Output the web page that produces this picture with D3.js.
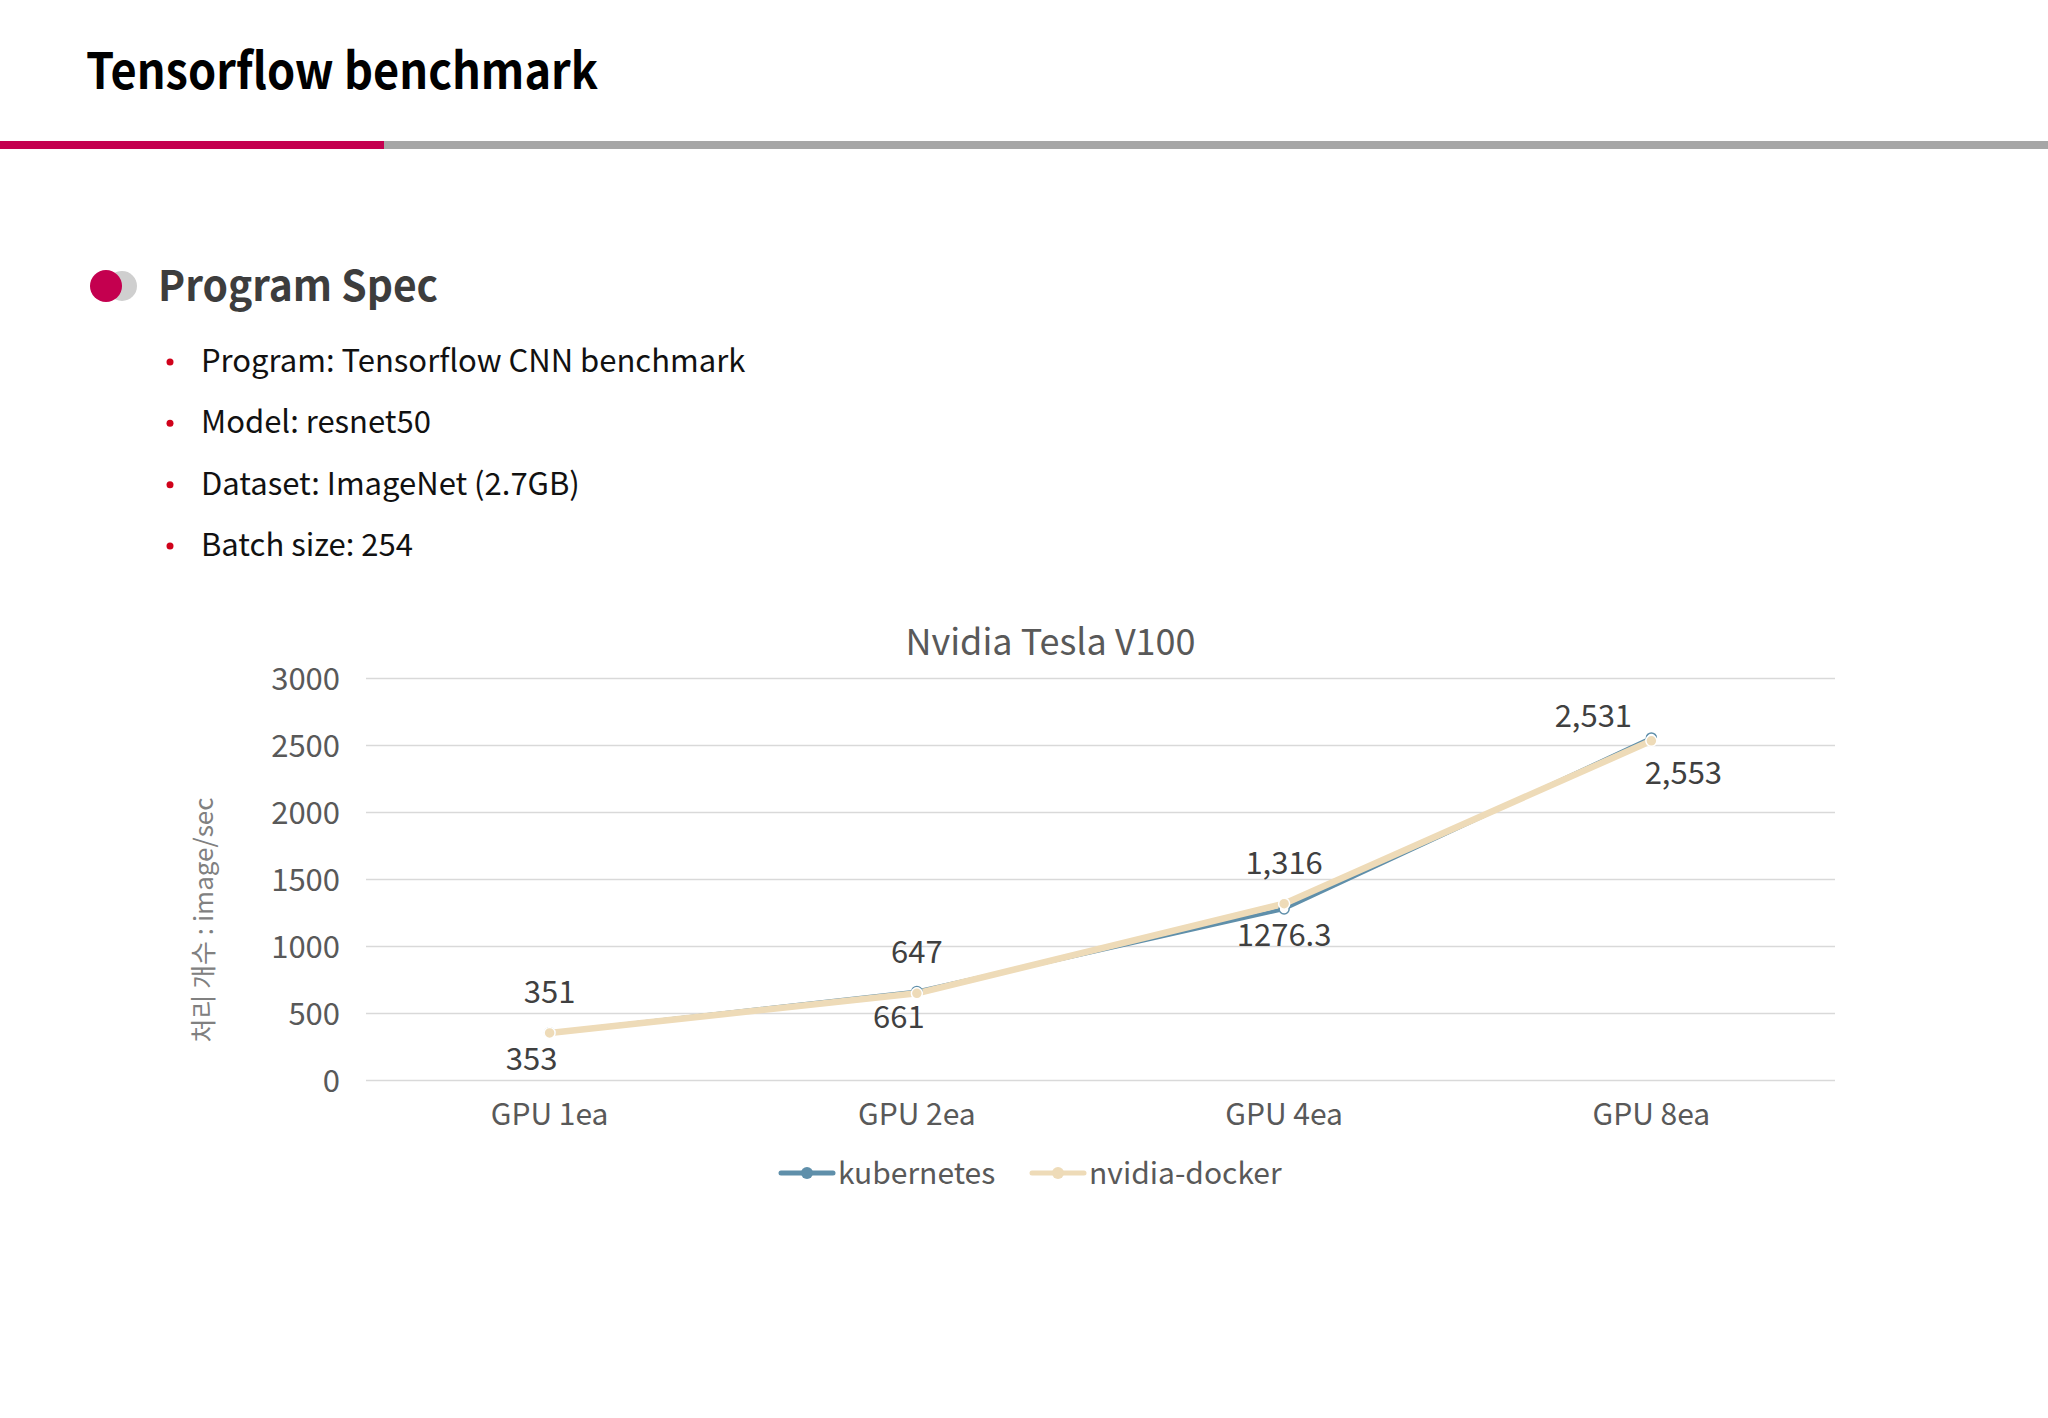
<!DOCTYPE html>
<html>
<head>
<meta charset="utf-8">
<script src="https://cdn.jsdelivr.net/npm/d3@7"></script>
<style>
  html, body { margin: 0; padding: 0; background: #fff; }
  svg { display: block; }
  text { font-family: "Noto Sans CJK KR", "Noto Sans", sans-serif; }
</style>
</head>
<body>
<svg id="slide" width="2048" height="1418"></svg>
<script>
// ---- data ----
const pageTitle = "Tensorflow benchmark";
const sectionTitle = "Program Spec";
const specItems = [
  "Program: Tensorflow CNN benchmark",
  "Model: resnet50",
  "Dataset: ImageNet (2.7GB)",
  "Batch size: 254"
];
const chartTitle = "Nvidia Tesla V100";
const yAxisTitle = "처리 개수 : image/sec";
const categories = ["GPU 1ea", "GPU 2ea", "GPU 4ea", "GPU 8ea"];
const kubernetes = [353, 661, 1276.3, 2553];
const nvidiaDocker = [351, 647, 1316, 2531];
const kubernetesLabels = ["353", "661", "1276.3", "2,553"];
const nvidiaDockerLabels = ["351", "647", "1,316", "2,531"];
const yTicks = [0, 500, 1000, 1500, 2000, 2500, 3000];
const seriesNames = ["kubernetes", "nvidia-docker"];

// ---- layout ----
const svg = d3.select("#slide");
const W = 2048;

// header
svg.append("text").attr("x", 86).attr("y", 89)
  .attr("font-size", 50).attr("font-weight", 700).attr("fill", "#000")
  .attr("textLength", 512).attr("lengthAdjust", "spacingAndGlyphs")
  .text(pageTitle);
svg.append("rect").attr("x", 0).attr("y", 141).attr("width", W).attr("height", 8).attr("fill", "#a6a6a6");
svg.append("rect").attr("x", 0).attr("y", 141).attr("width", 384).attr("height", 8).attr("fill", "#c4004f");

// section heading with icon
svg.append("circle").attr("cx", 122).attr("cy", 286).attr("r", 15).attr("fill", "#cfcfcf");
svg.append("circle").attr("cx", 106).attr("cy", 286).attr("r", 16).attr("fill", "#c4004f");
svg.append("text").attr("x", 158).attr("y", 301)
  .attr("font-size", 42).attr("font-weight", 700).attr("fill", "#3d3d3d")
  .attr("textLength", 280).attr("lengthAdjust", "spacingAndGlyphs")
  .text(sectionTitle);

// bullets
const bulletY = d3.scalePoint().domain(d3.range(specItems.length)).range([372, 556]);
const bullets = svg.append("g");
specItems.forEach((t, i) => {
  bullets.append("circle").attr("cx", 170).attr("cy", bulletY(i) - 10).attr("r", 3.5).attr("fill", "#d0021b");
  bullets.append("text").attr("x", 201).attr("y", bulletY(i))
    .attr("font-size", 31).attr("fill", "#111").text(t);
});

// ---- chart ----
const plot = { left: 366, right: 1835, top: 678, bottom: 1080 };
const x = d3.scaleBand().domain(categories).range([plot.left, plot.right]);
const cx = c => x(c) + x.bandwidth() / 2;
const y = d3.scaleLinear().domain([0, 3000]).range([plot.bottom, plot.top]);

const chart = svg.append("g");

chart.append("text").attr("x", (plot.left + plot.right) / 2 - 50).attr("y", 655)
  .attr("text-anchor", "middle").attr("font-size", 36).attr("fill", "#595959")
  .text(chartTitle);

// gridlines
const yAxis = d3.axisLeft(y).tickValues(yTicks).tickSize(-(plot.right - plot.left)).tickPadding(26).tickFormat(d3.format("d"));
const gy = chart.append("g").attr("transform", `translate(${plot.left},0)`).call(yAxis);
gy.select(".domain").remove();
gy.selectAll(".tick line").attr("stroke", "#d9d9d9").attr("stroke-width", 1.6);
gy.selectAll(".tick text").attr("font-size", 31).attr("fill", "#595959")
  .attr("font-family", "'Noto Sans CJK KR', sans-serif").attr("dy", "0.36em");

// x axis labels
const xAxis = d3.axisBottom(x).tickSize(0).tickPadding(0);
const gx = chart.append("g").attr("transform", `translate(0,${plot.bottom})`).call(xAxis);
gx.select(".domain").remove();
gx.selectAll(".tick text").attr("font-size", 30).attr("fill", "#595959")
  .attr("font-family", "'Noto Sans CJK KR', sans-serif").attr("dy", 0).attr("y", 45);

// y axis title
chart.append("text")
  .attr("transform", `translate(213,${920}) rotate(-90)`)
  .attr("text-anchor", "middle").attr("font-size", 26).attr("fill", "#808080")
  .text(yAxisTitle);

const line = d3.line().x((d, i) => cx(categories[i])).y(d => y(d));

const kColor = "#5f8faa";
const nColor = "#eedbb8";

// kubernetes (below)
chart.append("path").datum(kubernetes).attr("d", line)
  .attr("fill", "none").attr("stroke", kColor).attr("stroke-width", 4).attr("stroke-linejoin", "round");
// nvidia-docker (on top)
chart.append("path").datum(nvidiaDocker).attr("d", line)
  .attr("fill", "none").attr("stroke", nColor).attr("stroke-width", 6.5).attr("stroke-linejoin", "round");

// markers
chart.selectAll(".km").data(kubernetes).join("circle")
  .attr("cx", (d, i) => cx(categories[i])).attr("cy", d => y(d)).attr("r", 5)
  .attr("fill", "#fff").attr("stroke", kColor).attr("stroke-width", 1.5);
chart.selectAll(".nm").data(nvidiaDocker).join("circle")
  .attr("cx", (d, i) => cx(categories[i])).attr("cy", d => y(d)).attr("r", 5.5)
  .attr("fill", nColor).attr("stroke", "#fff").attr("stroke-width", 1.5);

// data labels
const last = categories.length - 1;
chart.selectAll(".nl").data(nvidiaDocker).join("text")
  .attr("x", (d, i) => cx(categories[i]) + (i === last ? -58 : 0))
  .attr("y", (d, i) => y(d) - (i === last ? 14 : 30))
  .attr("text-anchor", "middle").attr("font-size", 31).attr("fill", "#404040")
  .text((d, i) => nvidiaDockerLabels[i]);
chart.selectAll(".kl").data(kubernetes).join("text")
  .attr("x", (d, i) => cx(categories[i]) + (i === last ? 32 : (i === 2 ? 0 : -18)))
  .attr("y", (d, i) => y(d) + (i === last ? 46 : 37))
  .attr("text-anchor", "middle").attr("font-size", 31).attr("fill", "#404040")
  .text((d, i) => kubernetesLabels[i]);

// legend
const legend = chart.append("g");
const legendX = [781, 1032];
const legendColors = [kColor, nColor];
seriesNames.forEach((name, i) => {
  const g = legend.append("g").attr("transform", `translate(${legendX[i]},1173)`);
  g.append("line").attr("x1", 0).attr("x2", 52).attr("y1", 0).attr("y2", 0)
    .attr("stroke", legendColors[i]).attr("stroke-width", 5).attr("stroke-linecap", "round");
  g.append("circle").attr("cx", 26).attr("cy", 0).attr("r", 6).attr("fill", legendColors[i]);
  g.append("text").attr("x", 57).attr("y", 11).attr("font-size", 30).attr("fill", "#595959").text(name);
});
</script>
</body>
</html>
